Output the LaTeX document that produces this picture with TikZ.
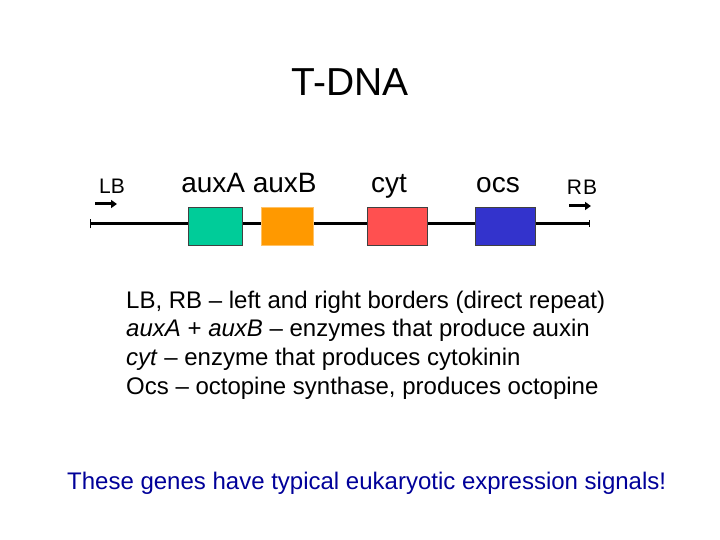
\documentclass[tikz,border=0pt]{standalone}
\usepackage{fontspec}
\setmainfont{Liberation Sans}
\usetikzlibrary{arrows.meta}
\definecolor{gGreen}{RGB}{0,204,153}
\definecolor{gOrange}{RGB}{255,153,0}
\definecolor{gRed}{RGB}{255,80,80}
\definecolor{gBlue}{RGB}{51,51,204}
\definecolor{navy}{RGB}{0,0,153}
\tikzset{
  genebox/.style={draw=black!75, line width=0.8pt, inner sep=0pt, minimum width=#1pt, minimum height=38pt},
  genelbl/.style={font=\fontsize{28}{32}\selectfont, anchor=base, inner sep=0pt},
  borderlbl/.style={font=\fontsize{21}{25}\selectfont, anchor=base, inner sep=0pt},
  desc/.style={font=\fontsize{24}{28}\selectfont, anchor=base west, inner sep=0pt},
  borderarrow/.style={line width=3pt, -{Triangle[length=6pt,width=8pt]}},
}
\begin{document}
\begin{tikzpicture}[x=1pt,y=-1pt]
\useasboundingbox (0,0) rectangle (720,540);
% title
\node[font=\fontsize{39}{45}\selectfont, anchor=base, inner sep=0pt] (title) at (350,96) {T-DNA};
% main DNA line
\coordinate (L) at (90,224);
\coordinate (R) at (590,224);
\draw[line width=3pt, {Bar[width=9pt,line width=1.2pt]}-{Bar[width=7pt,line width=1.2pt]}] (L) -- (R);
% gene boxes
\node[genebox=54, fill=gGreen] (auxA) at (215,226) {};
\node[genebox=52, fill=gOrange, draw=gOrange!60] (auxB) at (287,226) {};
\node[genebox=60, fill=gRed] (cyt) at (397,226) {};
\node[genebox=60, fill=gBlue] (ocs) at (505,226) {};
% labels
\node[genelbl] (auxlbl) at (249,193) {auxA auxB};
\node[genelbl] (cytlbl) at (389,193) {cyt};
\node[genelbl] (ocslbl) at (498,193) {ocs};
\node[borderlbl] (lblLB) at (112,194) {LB};
\node[borderlbl] (lblRB) at (582,195) {R\kern1pt B};
% border arrows
\coordinate (LBa) at (95,204);
\coordinate (LBb) at (117,204);
\coordinate (RBa) at (569,206);
\coordinate (RBb) at (591,206);
\draw[borderarrow] (LBa) -- (LBb);
\draw[borderarrow] (RBa) -- (RBb);
% description
\node[desc] (d1) at (126,308) {LB, RB – left and right borders (direct repeat)};
\node[desc] (d2) at (126,336.7) {\textit{auxA} + \textit{auxB} – enzymes that produce auxin};
\node[desc] (d3) at (126,365.4) {\textit{cyt} – enzyme that produces cytokinin};
\node[desc] (d4) at (126,394) {Ocs – octopine synthase, produces octopine};
% bottom remark
\node[font=\fontsize{24}{28}\selectfont, text=navy, anchor=base west, inner sep=0pt] (note) at (67,489) {These genes have typical eukaryotic expression signals!};
\end{tikzpicture}
\end{document}
